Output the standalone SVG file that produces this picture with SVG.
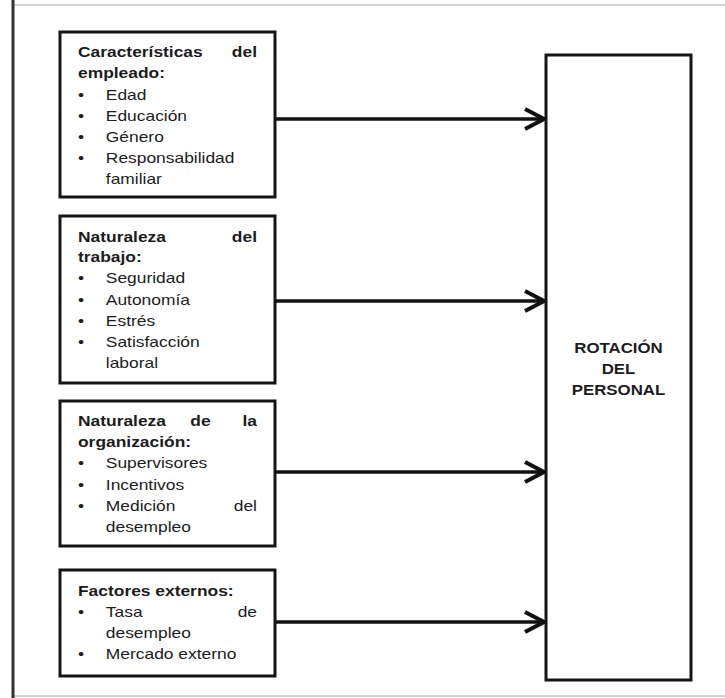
<svg xmlns="http://www.w3.org/2000/svg" width="725" height="698" viewBox="0 0 725 698">
  <style>
    .box { fill: #ffffff; stroke: #151515; stroke-width: 3; }
    .frame { stroke: #c4c4c4; stroke-width: 1.5; }
    .spine { stroke: #333333; stroke-width: 3; }
    .link { stroke: #111111; stroke-width: 3.5; fill: none; }
    text { font-family: "Liberation Sans", Arial, sans-serif; font-size: 15px; fill: #1c1c1c; }
    .h { font-weight: bold; }
    .r { text-anchor: end; }
    .m { text-anchor: middle; }
    .big { font-weight: bold; font-size: 14.5px; text-anchor: middle; }
  </style>
  <defs>
    <marker id="chev" markerUnits="userSpaceOnUse" viewBox="-24 -13 26 26" refX="0" refY="0" markerWidth="26" markerHeight="26" orient="auto">
      <path d="M-20,-10 L-1,0 L-20,10" fill="none" stroke="#111111" stroke-width="4"/>
    </marker>
  </defs>

  <rect x="0" y="0" width="725" height="698" fill="#ffffff"/>

  <!-- page frame -->
  <g id="frame">
    <line class="frame" x1="12" y1="5" x2="725" y2="5"/>
    <line class="frame" x1="12" y1="696" x2="725" y2="696"/>
    <line class="spine" x1="13" y1="0" x2="13" y2="698"/>
  </g>

  <!-- connectors -->
  <g id="connectors">
    <line class="link" x1="275" y1="119" x2="545" y2="119" marker-end="url(#chev)"/>
    <line class="link" x1="275" y1="301" x2="545" y2="301" marker-end="url(#chev)"/>
    <line class="link" x1="275" y1="472" x2="545" y2="472" marker-end="url(#chev)"/>
    <line class="link" x1="275" y1="622" x2="545" y2="622" marker-end="url(#chev)"/>
  </g>

  <g id="empleado">
    <rect class="box" x="60" y="32" width="215" height="165"/>
    <g transform="translate(78 0) scale(1.16 1)">
      <text class="h" x="0" y="57.5">Características</text>
      <text class="h r" x="154.3" y="57.5">del</text>
      <text class="h" x="0" y="78">empleado:</text>
      <text x="0" y="100">•</text><text x="24" y="100">Edad</text>
      <text x="0" y="121">•</text><text x="24" y="121">Educación</text>
      <text x="0" y="142">•</text><text x="24" y="142">Género</text>
      <text x="0" y="163">•</text><text x="24" y="163">Responsabilidad</text>
      <text x="24" y="184">familiar</text>
    </g>
  </g>

  <g id="trabajo">
    <rect class="box" x="60" y="216" width="215" height="167"/>
    <g transform="translate(78 0) scale(1.16 1)">
      <text class="h" x="0" y="242">Naturaleza</text>
      <text class="h r" x="154.3" y="242">del</text>
      <text class="h" x="0" y="262.5">trabajo:</text>
      <text x="0" y="283.5">•</text><text x="24" y="283.5">Seguridad</text>
      <text x="0" y="305">•</text><text x="24" y="305">Autonomía</text>
      <text x="0" y="326">•</text><text x="24" y="326">Estrés</text>
      <text x="0" y="347">•</text><text x="24" y="347">Satisfacción</text>
      <text x="24" y="368">laboral</text>
    </g>
  </g>

  <g id="organizacion">
    <rect class="box" x="60" y="401" width="215" height="145"/>
    <g transform="translate(78 0) scale(1.16 1)">
      <text class="h" x="0" y="426">Naturaleza</text>
      <text class="h m" x="105.6" y="426">de</text>
      <text class="h r" x="154.3" y="426">la</text>
      <text class="h" x="0" y="447">organización:</text>
      <text x="0" y="468.5">•</text><text x="24" y="468.5">Supervisores</text>
      <text x="0" y="490">•</text><text x="24" y="490">Incentivos</text>
      <text x="0" y="511">•</text><text x="24" y="511">Medición</text>
      <text class="r" x="154.3" y="511">del</text>
      <text x="24" y="532">desempleo</text>
    </g>
  </g>

  <g id="externos">
    <rect class="box" x="60" y="570" width="215" height="106"/>
    <g transform="translate(78 0) scale(1.16 1)">
      <text class="h" x="0" y="596">Factores externos:</text>
      <text x="0" y="617">•</text><text x="24" y="617">Tasa</text>
      <text class="r" x="154.3" y="617">de</text>
      <text x="24" y="638">desempleo</text>
      <text x="0" y="659">•</text><text x="24" y="659">Mercado externo</text>
    </g>
  </g>

  <g id="rotacion">
    <rect class="box" x="546" y="55" width="145" height="625"/>
    <g transform="translate(618.5 0) scale(1.16 1)">
      <text class="big" x="0" y="353">ROTACIÓN</text>
      <text class="big" x="0" y="374">DEL</text>
      <text class="big" x="0" y="395">PERSONAL</text>
    </g>
  </g>
</svg>
